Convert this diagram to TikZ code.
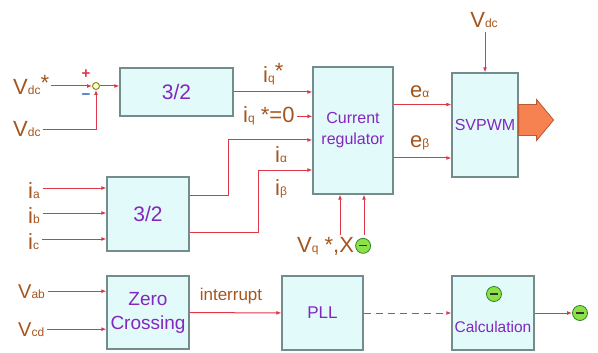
\documentclass[tikz,border=0pt]{standalone}
\usepackage{fontspec}
\setmainfont{Liberation Sans}
\usetikzlibrary{arrows.meta,positioning}
\definecolor{sigred}{RGB}{222,55,72}
\definecolor{boxfill}{RGB}{226,250,250}
\definecolor{boxline}{RGB}{115,140,140}
\definecolor{blocktxt}{RGB}{130,40,190}
\definecolor{lbltxt}{RGB}{165,85,30}
\definecolor{okgreen}{RGB}{140,225,70}
\definecolor{okline}{RGB}{50,130,40}
\definecolor{outfill}{RGB}{245,130,80}
\definecolor{outline}{RGB}{185,90,50}
\definecolor{minusblue}{RGB}{60,110,200}

\newcommand{\subtxt}[1]{{\fontsize{12}{12}\selectfont #1}}
\newcommand{\lblfont}{\fontsize{22}{24}\selectfont}

\tikzset{
  block/.style={draw=boxline,fill=boxfill,line width=1.2pt,text=blocktxt,align=center,inner sep=0pt},
  lbl/.style={text=lbltxt,font=\lblfont,inner sep=0pt},
  sig/.style={draw=sigred,line width=1pt,-{Latex[length=5pt,width=4pt]}},
  flag/.style={circle,draw=okline,fill=okgreen,line width=0.8pt,minimum size=15pt,inner sep=0pt,
    path picture={\draw[black!80,line width=1.2pt] ([xshift=-4pt]path picture bounding box.center) -- ([xshift=4pt]path picture bounding box.center);}},
  junction/.style={circle,draw=olive!80!green,fill=yellow!15,line width=1pt,minimum size=7pt,inner sep=0pt},
}

\begin{document}
\begin{tikzpicture}[x=1pt,y=-1pt]
\useasboundingbox (0,0) rectangle (598,353);
% blocks
\node[block,minimum width=113pt,minimum height=48pt,font=\fontsize{21}{21}\selectfont] (dq) at (176.5,92) {3/2};
\node[block,minimum width=80pt,minimum height=127pt,font=\fontsize{16}{21}\selectfont] (creg) at (353,130.5) {Current\\regulator};
\node[block,minimum width=66pt,minimum height=104pt,font=\fontsize{16}{16}\selectfont] (svpwm) at (485,125) {SVPWM};
\node[block,minimum width=82pt,minimum height=74pt,font=\fontsize{21}{21}\selectfont] (abc) at (148,214) {3/2};
\node[block,minimum width=82pt,minimum height=73pt,font=\fontsize{19}{24}\selectfont] (zc) at (148,312.5) {Zero\\Crossing};
\node[block,minimum width=81pt,minimum height=74pt,font=\fontsize{17}{17}\selectfont] (pll) at (322.5,313) {PLL};
\node[block,minimum width=82pt,minimum height=74pt] (calc) at (493,313) {};
\node[text=blocktxt,font=\fontsize{15.5}{15.5}\selectfont,anchor=base,inner sep=0pt] (calctxt) at (493,332) {Calculation};
\node[flag] (calcflag) at (494,294) {};

% dc-link voltage loop
\node[junction] (sum) at (96,86) {};
\node[lbl,anchor=base west] (vdcref) at (13,95) {V\subtxt{dc}\raisebox{4pt}{*}};
\node[lbl,anchor=base west] (vdcmeas) at (13,137) {V\subtxt{dc}};
\node[text=sigred,font=\fontsize{15}{15}\selectfont\bfseries,inner sep=0pt] (plus) at (86,74) {+};
\node[text=minusblue,font=\fontsize{15}{15}\selectfont\bfseries,inner sep=0pt] (minus) at (86,97) {−};
\draw[sig] ([xshift=2pt]vdcref.east |- sum) -- (sum);
\draw[sig] ([xshift=2pt]vdcmeas.east) -| (sum);
\draw[sig] (sum) -- (dq.west |- sum);

% current references
\node[lbl,anchor=base west] (iqref) at (263,83) {i\subtxt{q}\raisebox{4pt}{*}};
\node[lbl,anchor=base west] (iqzero) at (243,123) {i\subtxt{q} *=0};
\draw[sig] (dq.east) -- (creg.west |- dq.east);
\draw[sig] ([xshift=2pt]iqzero.east) -- (creg.west |- iqzero.east);

% phase currents
\node[lbl,anchor=base west] (ia) at (28,198) {i\subtxt{a}};
\node[lbl,anchor=base west] (ib) at (28,223) {i\subtxt{b}};
\node[lbl,anchor=base west] (ic) at (28,249) {i\subtxt{c}};
\foreach \ph/\dy in {a/26,b/1,c/-25}{
  \coordinate (in\ph) at ([yshift=\dy pt]abc.west);
  \draw[sig] ([xshift=3pt]i\ph.east |- in\ph) -- (in\ph);
}
\coordinate (ialpha) at (228,140);
\coordinate (ibeta) at (258,170);
\draw[sig] ([yshift=19pt]abc.east) -| (ialpha) -- (creg.west |- ialpha);
\draw[sig] ([yshift=-18pt]abc.east) -| (ibeta) -- (creg.west |- ibeta);
\node[lbl,anchor=base west] (lalpha) at (275,162) {i\subtxt{α}};
\node[lbl,anchor=base west] (lbeta) at (275,195) {i\subtxt{β}};

% regulator inputs from below
\node[lbl,anchor=base west] (vqx) at (297,252) {V\subtxt{q} *,X};
\node[flag,right=1pt of vqx] (vqflag) {};
\coordinate (cregin1) at ([xshift=-13pt]creg.south);
\coordinate (cregin2) at ([xshift=11pt]creg.south);
\draw[sig] ([yshift=2pt]vqx.north -| cregin1) -- (cregin1);
\draw[sig] ([yshift=2pt]vqx.north -| cregin2) -- (cregin2);

% voltage references to SVPWM
\coordinate (ea) at ([yshift=26pt]creg.east);
\coordinate (eb) at ([yshift=-27.5pt]creg.east);
\draw[sig] (ea) -- (svpwm.west |- ea);
\draw[sig] (eb) -- (svpwm.west |- eb);
\node[lbl,anchor=base west] (lea) at (410,98) {e\subtxt{α}};
\node[lbl,anchor=base west] (leb) at (410,147) {e\subtxt{β}};
\node[lbl,anchor=base] (vdctop) at (484,28) {V\subtxt{dc}};
\draw[sig] ([yshift=-4pt]vdctop.south -| svpwm.north) -- (svpwm.north);
\draw[draw=outline,fill=outfill,line width=0.8pt] ([yshift=5pt]svpwm.east) ++(0,-15.5) -- ++(18,0) -- ++(0,-5)
  -- ++(17,20.5) -- ++(-17,20.5) -- ++(0,-5) -- ++(-18,0) -- cycle;

% grid voltage path
\node[lbl,font=\fontsize{20}{20}\selectfont,anchor=base west] (vab) at (18,298) {V\subtxt{ab}};
\node[lbl,font=\fontsize{20}{20}\selectfont,anchor=base west] (vcd) at (18,336) {V\subtxt{cd}};
\draw[sig] ([xshift=3pt]vab.east) -- (zc.west |- vab.east);
\draw[sig] ([xshift=3pt]vcd.east) -- (zc.west |- vcd.east);
\node[lbl,font=\fontsize{17}{17}\selectfont,anchor=base] (intr) at (231,300) {interrupt};
\draw[sig] (zc) -- (pll);
\draw[sig,dash pattern=on 7pt off 5pt] (pll) -- (calc);
\node[flag] (outflag) at (580,313) {};
\draw[sig] (calc) -- (outflag);
\end{tikzpicture}
\end{document}
